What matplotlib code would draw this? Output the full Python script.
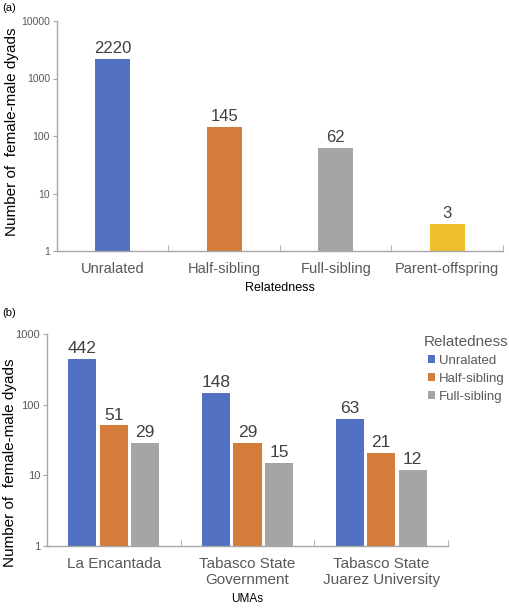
import matplotlib
matplotlib.use("Agg")
import matplotlib.pyplot as plt
from matplotlib.patches import Patch
import numpy as np

plt.rcParams['font.family'] = ['Liberation Sans', 'DejaVu Sans']

# ---- Data ----
categories_a = ["Unralated", "Half-sibling", "Full-sibling", "Parent-offspring"]
values_a = [2220, 145, 62, 3]

umas = ["La Encantada", "Tabasco State\nGovernment", "Tabasco State\nJuarez University"]
unrelated_b = [442, 148, 63]
half_b = [51, 29, 21]
full_b = [29, 15, 12]
series_names = ["Unralated", "Half-sibling", "Full-sibling"]

c_blue = "#5271C2"
c_orange = "#D67C3B"
c_gray = "#A5A5A5"
c_gold = "#EEBF2D"
colors_a = [c_blue, c_orange, c_gray, c_gold]
spine_c = "#A6A6A6"
tick_c = "#595959"
val_c = "#404040"

W, H = 510, 609
fig = plt.figure(figsize=(W / 100, H / 100), dpi=100)

def style_axes(ax, n, ytick_size):
    ax.set_yscale('log')
    for s in ['top', 'right']:
        ax.spines[s].set_visible(False)
    for s in ['left', 'bottom']:
        ax.spines[s].set_color(spine_c)
        ax.spines[s].set_linewidth(1.0)
    ax.set_xlim(-0.5, n - 0.5)
    ax.set_xticks(np.arange(n))
    ax.set_xticks(np.arange(n + 1) - 0.5, minor=True)
    ax.tick_params(axis='x', which='major', length=0, colors=tick_c)
    ax.tick_params(axis='x', which='minor', length=4, direction='in', color=spine_c)
    ax.tick_params(axis='y', which='major', length=3, direction='out', color=spine_c,
                   labelsize=ytick_size, labelcolor=tick_c, pad=2)
    ax.tick_params(axis='y', which='minor', length=0)
    ax.yaxis.set_major_formatter(matplotlib.ticker.FuncFormatter(lambda v, p: f"{int(round(v))}"))

# ---- Panel (a) ----
axa = fig.add_axes([57 / W, 1 - 251 / H, (503 - 57) / W, (251 - 21) / H])
xa = np.arange(len(categories_a))
axa.bar(xa, values_a, width=0.31, color=colors_a)
axa.set_ylim(1, 10000)
style_axes(axa, len(categories_a), 7.5)
axa.set_xticklabels(categories_a, fontsize=10.5)
axa.tick_params(axis='x', which='major', pad=8)
for x, v in zip(xa, values_a):
    axa.annotate(str(v), (x, v), xytext=(0, 2), textcoords='offset points',
                 ha='center', va='bottom', fontsize=12, color=val_c)
axa.set_ylabel("Number of  female-male dyads", fontsize=11)
axa.yaxis.set_label_coords((19 - 57) / 446, (251 - 132) / 230)
axa.set_xlabel("Relatedness", fontsize=9, labelpad=4)
fig.text(2 / W, 1 - 8 / H, "(a)", fontsize=8, va='center', ha='left')

# ---- Panel (b) ----
axb = fig.add_axes([47 / W, 1 - 546 / H, (448 - 47) / W, (546 - 334) / H])
xb = np.arange(len(umas))
bw = 0.21
off = 0.235
axb.bar(xb - off, unrelated_b, width=bw, color=c_blue)
axb.bar(xb, half_b, width=bw, color=c_orange)
axb.bar(xb + off, full_b, width=bw, color=c_gray)
axb.set_ylim(1, 1000)
style_axes(axb, len(umas), 8)
axb.set_xticklabels(umas, fontsize=11)
axb.tick_params(axis='x', which='major', pad=8)
for series, dx in zip([unrelated_b, half_b, full_b], [-off, 0, off]):
    for x, v in zip(xb, series):
        axb.annotate(str(v), (x + dx, v), xytext=(0, 2), textcoords='offset points',
                     ha='center', va='bottom', fontsize=12.5, color=val_c)
axb.set_ylabel("Number of  female-male dyads", fontsize=11)
axb.yaxis.set_label_coords((17 - 47) / 401, (546 - 463) / 212)
axb.set_xlabel("UMAs", fontsize=8.5, labelpad=4)
fig.text(2 / W, 1 - 313 / H, "(b)", fontsize=8, va='center', ha='left')

handles = [Patch(facecolor=c, edgecolor='none') for c in [c_blue, c_orange, c_gray]]
leg = fig.legend(handles, series_names, title="Relatedness", loc='upper left',
                 bbox_to_anchor=(424 / W, 1 - 335 / H), frameon=False,
                 fontsize=9.5, title_fontsize=11, handlelength=0.6, handleheight=0.6,
                 handletextpad=0.3, labelspacing=0.45, borderpad=0, borderaxespad=0)
for t in leg.get_texts():
    t.set_color(tick_c)
leg.get_title().set_color(tick_c)

fig.savefig("out.png", dpi=100)
